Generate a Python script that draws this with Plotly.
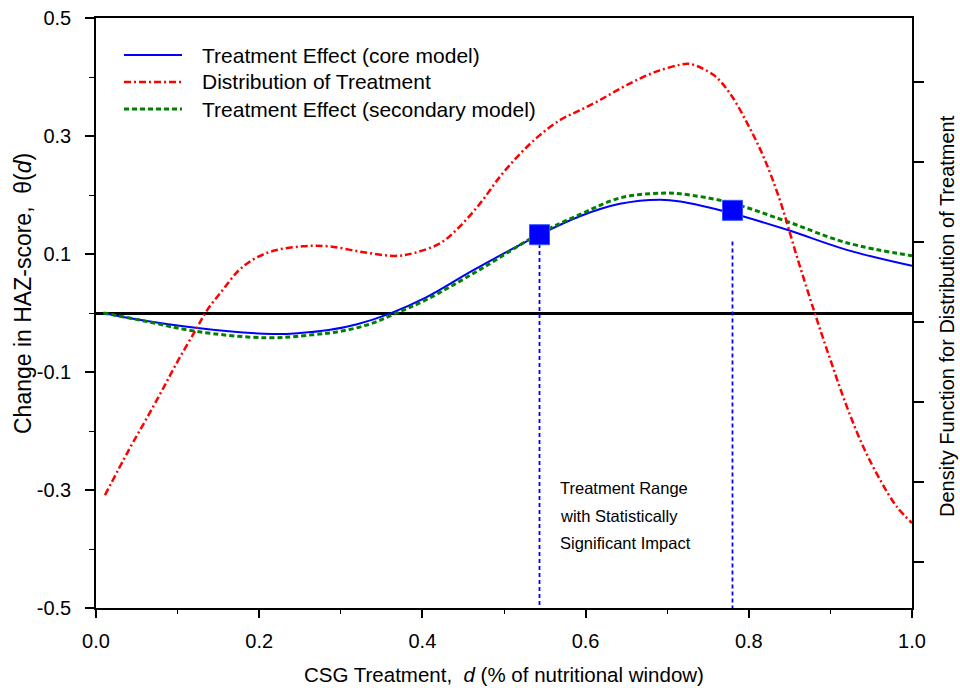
import plotly.graph_objects as go

# ---- data ----
core_x = [0.009, 0.040, 0.122, 0.216, 0.250, 0.285, 0.320, 0.360, 0.404, 0.463, 0.544,
          0.593, 0.642, 0.691, 0.716, 0.779, 0.847, 0.920, 1.0]
core_y = [0.0, -0.0085, -0.025, -0.0356, -0.034, -0.029, -0.019, -0.001, 0.026, 0.073, 0.133,
          0.164, 0.185, 0.192, 0.189, 0.169, 0.141, 0.107, 0.080]

sec_x = [0.009, 0.061, 0.122, 0.208, 0.265, 0.300, 0.335, 0.367, 0.404, 0.471, 0.544,
         0.593, 0.642, 0.691, 0.716, 0.777, 0.847, 0.920, 1.0]
sec_y = [0.0, -0.014, -0.031, -0.042, -0.037, -0.031, -0.019, -0.001, 0.022, 0.074, 0.135,
         0.167, 0.195, 0.203, 0.202, 0.187, 0.155, 0.119, 0.097]

dist_x = [0.011, 0.040, 0.061, 0.081, 0.101, 0.122, 0.136, 0.155, 0.175, 0.195,
          0.220, 0.253, 0.285, 0.326, 0.367, 0.391, 0.422, 0.446, 0.471, 0.495,
          0.520, 0.544, 0.569, 0.593, 0.618, 0.642, 0.667, 0.691, 0.716, 0.728,
          0.757, 0.777, 0.798, 0.818, 0.838, 0.859, 0.881, 0.900, 0.920, 0.940,
          0.961, 0.981, 1.0]
dist_y = [1.84, 2.40, 2.78, 3.15, 3.53, 3.90, 4.15, 4.40, 4.65, 4.80,
          4.90, 4.95, 4.95, 4.88, 4.83, 4.87, 4.99, 5.20, 5.49, 5.82,
          6.11, 6.34, 6.53, 6.65, 6.78, 6.92, 7.05, 7.15, 7.22, 7.23,
          7.09, 6.86, 6.49, 6.07, 5.53, 4.82, 4.11, 3.53, 2.95, 2.45,
          2.03, 1.70, 1.49]

sig_x = [0.5435, 0.78]
sig_y = [0.1327, 0.174]
drop_top = [0.117, 0.121]

y_tickvals = [-0.5, -0.3, -0.1, 0.1, 0.3, 0.5]
y_ticktext = ["-0.5", "-0.3", "-0.1", "0.1", "0.3", "0.5"]
x_tickvals = [0.0, 0.2, 0.4, 0.6, 0.8, 1.0]
x_ticktext = ["0.0", "0.2", "0.4", "0.6", "0.8", "1.0"]

legend_names = ["Treatment Effect (core model)", "Distribution of Treatment",
                "Treatment Effect (secondary model)"]
note_lines = ["Treatment Range", "with Statistically", "Significant Impact"]

FONT = "Liberation Sans, Arial, sans-serif"
BLUE = "#0000ff"
RED = "#ff0000"
GREEN = "#008000"
RED_DASH = "7px,3px,2px,3px"
GREEN_DASH = "5px,3px"

fig = go.Figure()

fig.add_trace(go.Scatter(x=dist_x, y=dist_y, yaxis="y2", mode="lines",
                         line=dict(color=RED, width=2.5, dash=RED_DASH, shape="spline"),
                         name=legend_names[1], showlegend=False))
fig.add_trace(go.Scatter(x=core_x, y=core_y, mode="lines",
                         line=dict(color=BLUE, width=2, shape="spline"),
                         name=legend_names[0], showlegend=False))
fig.add_trace(go.Scatter(x=sec_x, y=sec_y, mode="lines",
                         line=dict(color=GREEN, width=3, dash=GREEN_DASH, shape="spline"),
                         name=legend_names[2], showlegend=False))

for xv, yt in zip(sig_x, drop_top):
    fig.add_trace(go.Scatter(x=[xv, xv], y=[yt, -0.5], mode="lines",
                             line=dict(color=BLUE, width=1.8, dash="4px,3px"),
                             showlegend=False, hoverinfo="skip"))

fig.add_trace(go.Scatter(x=sig_x, y=sig_y, mode="markers",
                         marker=dict(symbol="square", size=20, color=BLUE,
                                     line=dict(color="#3355ff", width=1)),
                         showlegend=False))

# ---- manual legend (page pixel -> paper helpers) ----
def px2paper_x(px):
    return (px - 96) / 816.0

def py2paper_y(py):
    return (608 - py) / 590.0

leg_rows = [55, 82, 109]
leg_styles = [dict(color=BLUE, width=2, dash="solid"),
              dict(color=RED, width=2.5, dash=RED_DASH),
              dict(color=GREEN, width=3, dash=GREEN_DASH)]
shapes = []
annotations = []
for row, st, name in zip(leg_rows, leg_styles, legend_names):
    yy = py2paper_y(row)
    shapes.append(dict(type="line", xref="paper", yref="paper",
                       x0=px2paper_x(124), x1=px2paper_x(182), y0=yy, y1=yy,
                       line=st))
    annotations.append(dict(xref="paper", yref="paper", x=px2paper_x(200), y=yy,
                            xanchor="left", yanchor="middle", text=name,
                            showarrow=False, font=dict(family=FONT, size=21, color="black")))

for row, t in zip([488, 516, 543], note_lines):
    annotations.append(dict(xref="paper", yref="paper", x=px2paper_x(558), y=py2paper_y(row),
                            xanchor="left", yanchor="middle", text=t, showarrow=False,
                            font=dict(family=FONT, size=16.5, color="black")))

# axis titles
annotations.append(dict(xref="paper", yref="paper", x=px2paper_x(504), y=py2paper_y(674),
                        xanchor="center", yanchor="middle", showarrow=False,
                        text="CSG Treatment,  <i>d</i> (% of nutritional window)",
                        font=dict(family=FONT, size=20.5, color="black")))
annotations.append(dict(xref="paper", yref="paper", x=px2paper_x(23), y=py2paper_y(294),
                        xanchor="center", yanchor="middle", showarrow=False, textangle=-90,
                        text="Change in HAZ-score,  θ(<i>d</i>)",
                        font=dict(family=FONT, size=23, color="black")))
annotations.append(dict(xref="paper", yref="paper", x=px2paper_x(947), y=py2paper_y(316),
                        xanchor="center", yanchor="middle", showarrow=False, textangle=-90,
                        text="Density Function for Distribution of Treatment",
                        font=dict(family=FONT, size=20, color="black")))

fig.update_layout(
    width=960, height=688,
    margin=dict(l=96, r=48, t=18, b=80, autoexpand=False),
    paper_bgcolor="white", plot_bgcolor="white",
    font=dict(family=FONT, size=20, color="black"),
    showlegend=False,
    shapes=shapes, annotations=annotations,
    xaxis=dict(range=[0, 1], tickmode="array", tickvals=x_tickvals, ticktext=x_ticktext,
               ticks="outside", ticklen=8, tickwidth=1.5, tickcolor="black",
               minor=dict(tickmode="linear", tick0=0, dtick=0.1, ticks="outside",
                          ticklen=4, tickwidth=1, tickcolor="black"),
               showline=True, linecolor="black", linewidth=1.5, mirror=True,
               showgrid=False, zeroline=False, ticklabelstandoff=6, automargin=False,
               tickfont=dict(family=FONT, size=20, color="black")),
    yaxis=dict(range=[-0.5, 0.5], tickmode="array", tickvals=y_tickvals, ticktext=y_ticktext,
               ticks="outside", ticklen=9, tickwidth=1.5, tickcolor="black",
               minor=dict(tickmode="linear", tick0=0, dtick=0.1, ticks="outside",
                          ticklen=5, tickwidth=1, tickcolor="black"),
               showline=True, linecolor="black", linewidth=1.5,
               showgrid=False, zeroline=True, zerolinecolor="black", zerolinewidth=3,
               ticklabelstandoff=10, automargin=False,
               tickfont=dict(family=FONT, size=20, color="black")),
    yaxis2=dict(range=[0.429, 7.804], overlaying="y", side="right", anchor="x",
                tickmode="linear", tick0=0, dtick=1, ticks="outside", ticklen=10,
                tickwidth=1.5, tickcolor="black", showticklabels=False,
                showline=True, linecolor="black", linewidth=1.5, automargin=False,
                showgrid=False, zeroline=False),
)

fig.write_html("out.html", config={"displayModeBar": False},
               post_script="document.body.style.margin='0px';"
                           "document.documentElement.style.overflow='hidden';")
